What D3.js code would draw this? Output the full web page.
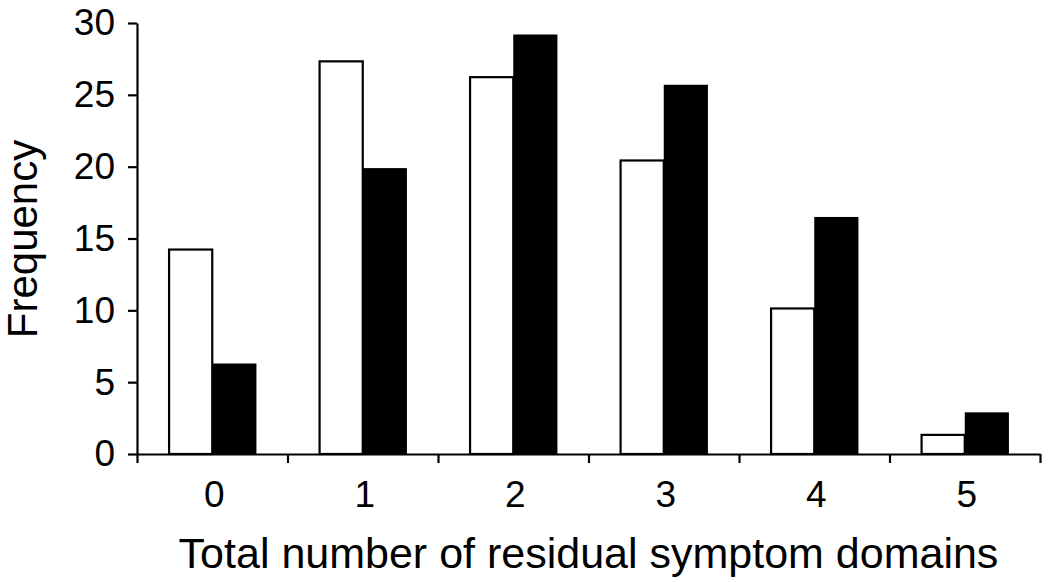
<!DOCTYPE html>
<html>
<head>
<meta charset="utf-8">
<script src="https://cdn.jsdelivr.net/npm/d3@7"></script>
<style>
  html, body { margin: 0; padding: 0; background: #fff; }
  svg { display: block; font-family: "Liberation Sans", Arial, Helvetica, sans-serif; }
</style>
</head>
<body>
<svg id="chart" width="1050" height="582"></svg>
<script>
const categories = ["0", "1", "2", "3", "4", "5"];
const seriesNames = ["open", "filled"];
const openValues = [14.3, 27.4, 26.3, 20.5, 10.2, 1.4];
const filledValues = [6.3, 19.9, 29.2, 25.7, 16.5, 2.9];
const yTicks = [0, 5, 10, 15, 20, 25, 30];
const xTitle = "Total number of residual symptom domains";
const yTitle = "Frequency";

const svg = d3.select("#chart");
const margin = { left: 137, top: 23, right: 10, bottom: 128 };
const W = 1040 - margin.left;
const H = 454 - margin.top;
const g = svg.append("g").attr("transform", `translate(${margin.left},${margin.top})`);

const x = d3.scaleBand().domain(categories).range([0, W]).paddingInner(0.413).paddingOuter(0.2065);
const x1 = d3.scaleBand().domain(seriesNames).range([0, x.bandwidth()]);
const xEdges = d3.scaleLinear().domain([0, categories.length]).range([0, W]);
const y = d3.scaleLinear().domain([0, 30]).range([H, 0]);

const rows = categories.map((c, i) => ({ c, vals: [
  { s: "open", v: openValues[i] },
  { s: "filled", v: filledValues[i] }
]}));

// bars
const grp = g.selectAll("g.cat").data(rows).join("g").attr("class", "cat")
  .attr("transform", d => `translate(${x(d.c)},0)`);
grp.selectAll("rect").data(d => d.vals).join("rect")
  .attr("x", d => x1(d.s) + (d.s === "open" ? 1 : 0))
  .attr("y", d => y(d.v) + (d.s === "open" ? 1 : 0))
  .attr("width", d => x1.bandwidth() - (d.s === "open" ? 1 : 0))
  .attr("height", d => H - y(d.v) - (d.s === "open" ? 1 : 0))
  .attr("fill", d => d.s === "open" ? "#fff" : "#000")
  .attr("stroke", d => d.s === "open" ? "#000" : "none")
  .attr("stroke-width", 2.2);

// y axis
const yAxis = g.append("g").call(d3.axisLeft(y).tickValues(yTicks).tickSize(9).tickPadding(13).tickSizeOuter(0));
yAxis.selectAll("text").attr("font-size", 37).attr("fill", "#000").attr("font-family", "Liberation Sans, Arial, sans-serif");
yAxis.selectAll("line, path").attr("stroke", "#000").attr("stroke-width", 2.2);

// x axis tick marks at band edges
const xTickAxis = g.append("g").attr("transform", `translate(0,${H})`)
  .call(d3.axisBottom(xEdges).ticks(categories.length).tickFormat("").tickSize(9).tickSizeOuter(0));
xTickAxis.selectAll("line, path").attr("stroke", "#000").attr("stroke-width", 2.2);

// x labels at band centres
const xLabAxis = g.append("g").attr("transform", `translate(0,${H})`)
  .call(d3.axisBottom(x).tickSize(0).tickPadding(27));
xLabAxis.select("path").remove();
xLabAxis.selectAll("text").attr("font-size", 37).attr("fill", "#000").attr("font-family", "Liberation Sans, Arial, sans-serif")
  .attr("dx", 2);

// titles
svg.append("text").attr("x", margin.left + W / 2).attr("y", 568)
  .attr("text-anchor", "middle").attr("font-size", 43).attr("fill", "#000").text(xTitle);
svg.append("text").attr("transform", "translate(37,239) rotate(-90)")
  .attr("text-anchor", "middle").attr("font-size", 42).attr("fill", "#000").text(yTitle);
</script>
</body>
</html>
